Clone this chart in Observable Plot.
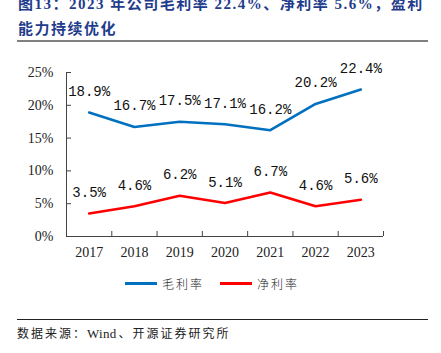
<!DOCTYPE html>
<html>
<head>
<meta charset="utf-8">
<script src="https://cdn.jsdelivr.net/npm/d3@7"></script>
<script src="https://cdn.jsdelivr.net/npm/@observablehq/plot@0.6"></script>
<style>
  html, body { margin: 0; padding: 0; background: #fff; }
  body { width: 441px; height: 353px; position: relative; overflow: hidden; }
  .title { position: absolute; left: 18px; color: #1F3D8C; font-weight: bold;
    font-family: "Liberation Serif", "Noto Sans CJK SC", serif; font-size: 15px; letter-spacing: 1.5px; white-space: nowrap; line-height: 25px; }
  .rule1 { position: absolute; left: 17px; width: 411px; top: 40px; height: 2px; background: #808080; }
  .rule2 { position: absolute; left: 17px; width: 411px; top: 319px; height: 1px; background: #222; }
  .source { position: absolute; left: 17px; top: 324px; font-size: 12px; letter-spacing: 2px;
    font-family: "Liberation Serif", "Noto Sans CJK SC", serif; color: #222; white-space: nowrap; }
  .source .latin { letter-spacing: 0.3px; font-size: 13px; margin-right: 2px; }
  #chart { position: absolute; left: 0; top: 0; }
  .legend { position: absolute; top: 275px; left: 125px; display: flex; align-items: center;
    font-family: "Noto Sans CJK SC", sans-serif; font-weight: 300; font-size: 12px; letter-spacing: 2px; color: #222; }
  .legend .sw { width: 32px; height: 3px; margin-right: 5px; }
  .legend .item { display: flex; align-items: center; margin-right: 16px; }
</style>
</head>
<body>
<div class="title" style="top:-8px">图13：2023 年公司毛利率 22.4%、净利率 5.6%，盈利</div>
<div class="title" style="top:17px">能力持续优化</div>
<div class="rule1"></div>
<div id="chart"></div>
<div class="legend" id="legend"></div>
<div class="rule2"></div>
<div class="source">数据来源：<span class="latin">Wind</span>、开源证券研究所</div>
<script>
const years = [2017, 2018, 2019, 2020, 2021, 2022, 2023];
const grossMargin = [18.9, 16.7, 17.5, 17.1, 16.2, 20.2, 22.4];
const netMargin = [3.5, 4.6, 6.2, 5.1, 6.7, 4.6, 5.6];
const seriesNames = ["毛利率", "净利率"];
const seriesColors = ["#0070C0", "#FF0000"];
const yTicks = [0, 5, 10, 15, 20, 25];

const data = [
  ...years.map((y, i) => ({year: y, value: grossMargin[i], series: seriesNames[0]})),
  ...years.map((y, i) => ({year: y, value: netMargin[i], series: seriesNames[1]}))
];
const edges = [...years.map(y => y - 0.5), years[years.length - 1] + 0.5];

const W = 441, H = 270, mL = 66, mR = 58, mT = 72, mB = 34;
const plotW = W - mL - mR, plotH = H - mT - mB;

const chart = Plot.plot({
  width: W, height: H,
  marginLeft: mL, marginRight: mR, marginTop: mT, marginBottom: mB,
  x: {type: "linear", domain: [edges[0], edges[edges.length - 1]]},
  y: {domain: [0, 25]},
  color: {domain: seriesNames, range: seriesColors},
  style: {background: "transparent"},
  marks: [
    Plot.axisX({ticks: years, tickFormat: d => String(d), tickSize: 0, tickPadding: 11,
      fontSize: 14, fontFamily: "Liberation Serif, serif", fill: "#222", label: null}),
    Plot.axisY({ticks: yTicks, tickFormat: d => d + "%", tickSize: 0, tickPadding: 13,
      fontSize: 14, fontFamily: "Liberation Serif, serif", fill: "#222", label: null}),
    Plot.ruleX([edges[0]], {stroke: "#444", strokeWidth: 1}),
    Plot.ruleY([0], {stroke: "#444", strokeWidth: 1}),
    Plot.tickX(edges, {x: d => d, insetTop: plotH - 5, stroke: "#444"}),
    Plot.tickY(yTicks, {y: d => d, insetRight: plotW - 5, stroke: "#444"}),
    Plot.line(data, {x: "year", y: "value", z: "series", stroke: "series", strokeWidth: 2.6}),
    Plot.text(data, {x: "year", y: "value", text: d => d.value.toFixed(1) + "%", dy: -21,
      fontSize: 14, fontFamily: "Liberation Mono, DejaVu Sans Mono, monospace", fill: "#111"})
  ]
});
document.getElementById("chart").appendChild(chart);

const legend = document.getElementById("legend");
seriesNames.forEach((name, i) => {
  const item = document.createElement("div");
  item.className = "item";
  const sw = document.createElement("div");
  sw.className = "sw";
  sw.style.background = seriesColors[i];
  const label = document.createElement("span");
  label.textContent = name;
  item.appendChild(sw);
  item.appendChild(label);
  legend.appendChild(item);
});
</script>
</body>
</html>
